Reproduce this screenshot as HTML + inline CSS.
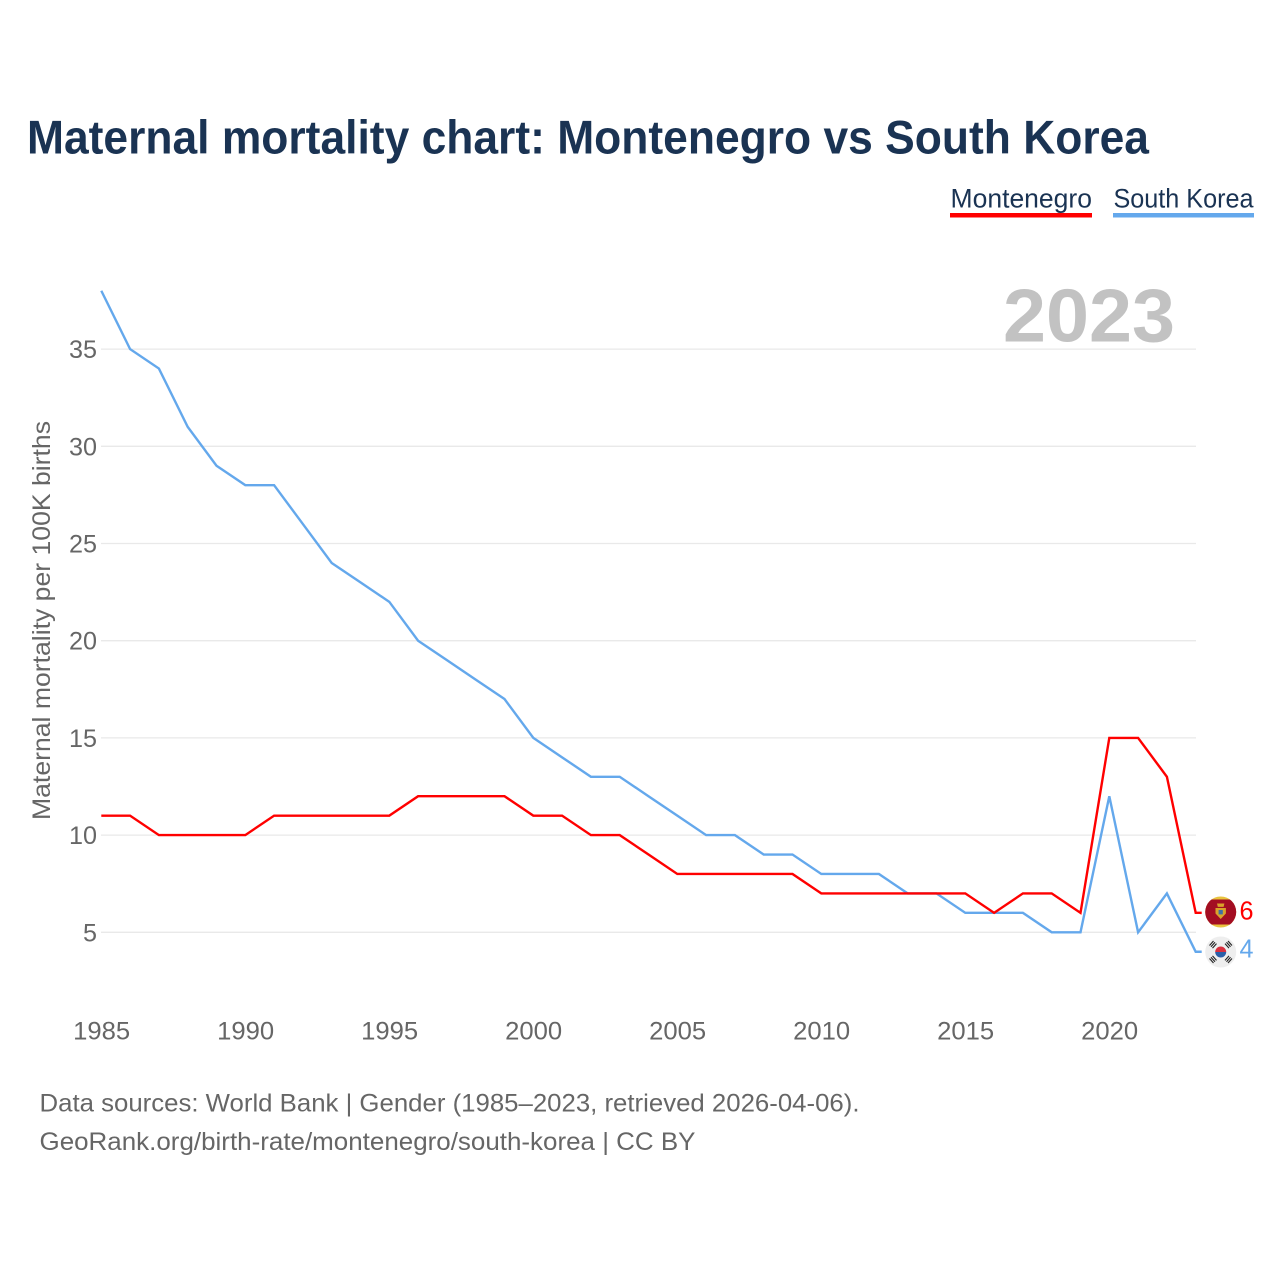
<!DOCTYPE html>
<html lang="en">
<head>
<meta charset="utf-8">
<title>Maternal mortality chart: Montenegro vs South Korea</title>
<style>
  html, body { margin: 0; padding: 0; background: #ffffff; }
  svg { display: block; font-family: "Liberation Sans", sans-serif; }
</style>
</head>
<body>
<svg id="chart" xmlns="http://www.w3.org/2000/svg" width="1280" height="1280" viewBox="0 0 1280 1280">
  <defs>
    <clipPath id="flag-clip-montenegro"><circle cx="1220.700" cy="912" r="15.500"/></clipPath>
  </defs>
  <rect x="0" y="0" width="1280" height="1280" fill="#ffffff"/>
  <text x="27" y="153.500" font-size="47" font-weight="700" fill="#1a3353" textLength="1122" lengthAdjust="spacingAndGlyphs">Maternal mortality chart: Montenegro vs South Korea</text>

  <g>
    <g>
      <text x="950.500" y="207.500" font-size="27" fill="#1a3353" textLength="141.500" lengthAdjust="spacingAndGlyphs">Montenegro</text>
      <rect x="950" y="213" width="142" height="4.500" fill="#ff0000"/>
    </g>
    <g>
      <text x="1113.500" y="207.500" font-size="27" fill="#1a3353" textLength="140" lengthAdjust="spacingAndGlyphs">South Korea</text>
      <rect x="1113" y="213" width="141" height="4.500" fill="#64a8ec"/>
    </g>
  </g>

  <g id="grid"></g>
  <g id="y-ticks"></g>
  <g id="x-ticks"></g>

  <text x="1003" y="341.500" font-size="75" font-weight="700" fill="#c2c2c2" textLength="172" lengthAdjust="spacingAndGlyphs">2023</text>

  <text transform="translate(50 620.500) rotate(-90)" text-anchor="middle" font-size="25" fill="#666666" textLength="399" lengthAdjust="spacingAndGlyphs">Maternal mortality per 100K births</text>

  <g id="series"></g>

  <g clip-path="url(#flag-clip-montenegro)">
    <rect x="1204" y="896" width="34" height="32" fill="#e8c33e"/>
    <rect x="1204" y="899.500" width="34" height="25" fill="#a30d22"/>
    <path d="M1217 903.500h7.400l-.8 3.400h-5.800z" fill="#d9a32b"/>
    <path d="M1215.500 908h10.400v5.500l-5.200 5.500-5.200-5.500z" fill="#d9a32b"/>
    <rect x="1218.600" y="910" width="4.200" height="4.400" fill="#3d6fa8"/>
  </g>
  <text id="end-label-montenegro" x="1239.500" y="919.500" font-size="26" fill="#ff0000" textLength="14" lengthAdjust="spacingAndGlyphs">6</text>

  <g>
    <circle cx="1220.700" cy="952" r="15.500" fill="#eeeeee"/>
    <path d="M1215.200 952a5.500 5.500 0 0 1 11 0z" fill="#d9303f"/>
    <path d="M1215.200 952a5.500 5.500 0 0 0 11 0z" fill="#2b5fa8"/>
    <g stroke="#222222" stroke-width="1.100" fill="none">
      <path d="M1209.500 945.500l4-4.500M1211 946.800l4-4.500M1212.500 948.100l4-4.500"/>
      <path d="M1228 941l4 4.500M1226.500 942.300l4 4.500M1225 943.600l4 4.500"/>
      <path d="M1209.500 958.500l4 4.500M1211 957.200l4 4.500M1212.500 955.900l4 4.500"/>
      <path d="M1228 963l4-4.500M1226.500 961.700l4-4.500M1225 960.400l4-4.500"/>
    </g>
  </g>
  <text id="end-label-south-korea" x="1239.500" y="957.500" font-size="26" fill="#64a8ec" textLength="14" lengthAdjust="spacingAndGlyphs">4</text>

  <text x="39.500" y="1111.500" font-size="25" fill="#666666" textLength="820" lengthAdjust="spacingAndGlyphs">Data sources: World Bank | Gender (1985–2023, retrieved 2026-04-06).</text>
  <text x="39.500" y="1150" font-size="25" fill="#666666" textLength="656" lengthAdjust="spacingAndGlyphs">GeoRank.org/birth-rate/montenegro/south-korea | CC BY</text>
</svg>

<script>
const firstYear = 1985;
const montenegroValues = [11, 11, 10, 10, 10, 10, 11, 11, 11, 11, 11, 12, 12, 12, 12, 11, 11, 10, 10, 9, 8, 8, 8, 8, 8, 7, 7, 7, 7, 7, 7, 6, 7, 7, 6, 15, 15, 13, 6];
const southKoreaValues = [38, 35, 34, 31, 29, 28, 28, 26, 24, 23, 22, 20, 19, 18, 17, 15, 14, 13, 13, 12, 11, 10, 10, 9, 9, 8, 8, 8, 7, 7, 6, 6, 6, 5, 5, 12, 5, 7, 4];
const yTickValues = [5, 10, 15, 20, 25, 30, 35];
const xTickYears = [1985, 1990, 1995, 2000, 2005, 2010, 2015, 2020];

const SVG_NS = 'http://www.w3.org/2000/svg';

function xScale(year) {
  return 101.3 + (year - 1985) * 28.8;
}
function yScale(value) {
  return 1029.5 - value * 19.44;
}
function make(tag, attrs, parent) {
  const el = document.createElementNS(SVG_NS, tag);
  Object.keys(attrs).forEach(function (k) { el.setAttribute(k, attrs[k]); });
  parent.appendChild(el);
  return el;
}

const gridGroup = document.getElementById('grid');
const yTickGroup = document.getElementById('y-ticks');
yTickValues.forEach(function (v) {
  const line = make('line', { x1: 101, x2: 1196, y1: yScale(v), y2: yScale(v), stroke: '#e9e9e9', 'stroke-width': 1.3 }, gridGroup);
  
  
  const label = make('text', { x: 97, y: yScale(v) + 9, 'text-anchor': 'end', 'font-size': 25, fill: '#666666', textLength: String(v).length * 14, lengthAdjust: 'spacingAndGlyphs' }, yTickGroup);
  
  
  label.textContent = v;
});

const xTickGroup = document.getElementById('x-ticks');
xTickYears.forEach(function (yr) {
  const label = make('text', { x: xScale(yr) + 0.4, y: 1039.7, 'text-anchor': 'middle', 'font-size': 25, fill: '#666666', textLength: 57, lengthAdjust: 'spacingAndGlyphs' }, xTickGroup);
  
  
  label.textContent = yr;
});

function linePath(values) {
  const pts = values.map(function (v, i) {
    return xScale(firstYear + i).toFixed(2) + ' ' + yScale(v).toFixed(2);
  });
  const lastY = yScale(values[values.length - 1]).toFixed(2);
  const lastX = xScale(firstYear + values.length - 1) + 6;
  return 'M' + pts.join('L') + 'L' + lastX.toFixed(2) + ' ' + lastY;
}

const seriesGroup = document.getElementById('series');
const koreaLine = make('path', { d: linePath(southKoreaValues), fill: 'none', stroke: '#64a8ec', 'stroke-width': 2.4, 'stroke-linejoin': 'miter' }, seriesGroup);


const montenegroLine = make('path', { d: linePath(montenegroValues), fill: 'none', stroke: '#ff0000', 'stroke-width': 2.4, 'stroke-linejoin': 'miter' }, seriesGroup);



document.getElementById('end-label-montenegro').textContent = montenegroValues[montenegroValues.length - 1];
document.getElementById('end-label-south-korea').textContent = southKoreaValues[southKoreaValues.length - 1];
</script>
</body>
</html>
